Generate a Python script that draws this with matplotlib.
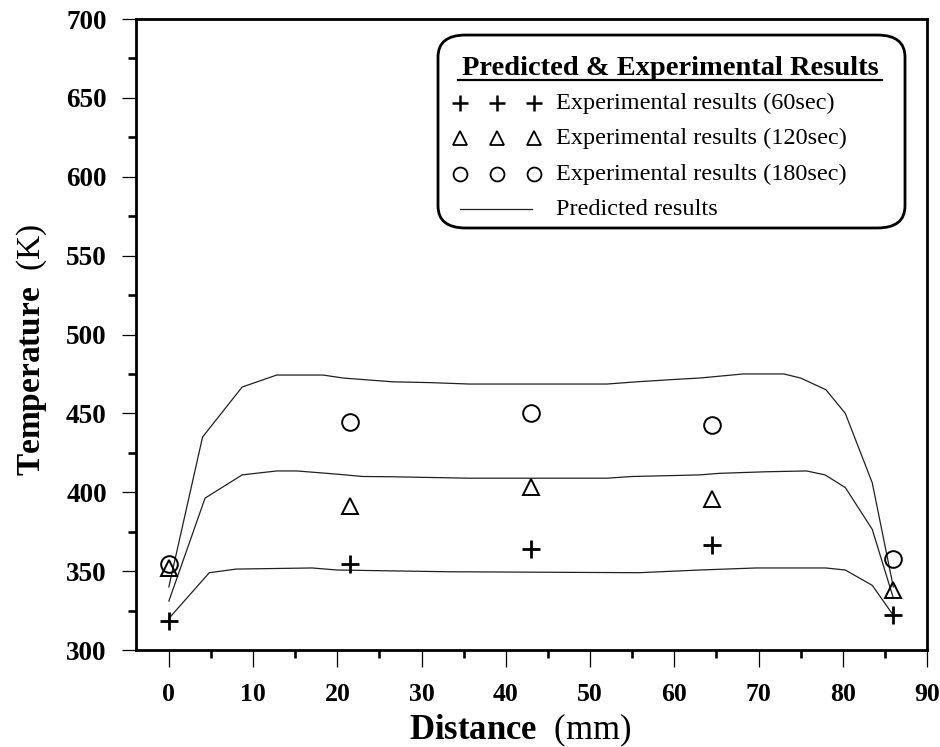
import matplotlib
matplotlib.use("Agg")
import matplotlib.pyplot as plt
from matplotlib.patches import FancyBboxPatch
from matplotlib.lines import Line2D
from matplotlib.ticker import MultipleLocator

plt.rcParams['font.family'] = ['Liberation Serif', 'DejaVu Serif']
plt.rcParams['mathtext.fontset'] = 'custom'
plt.rcParams['mathtext.rm'] = 'Liberation Serif'
plt.rcParams['mathtext.bf'] = 'Liberation Serif:bold'

# Experimental measurements (thermocouple positions, mm)
x_exp = [0, 21.5, 43, 64.5, 86]
t_60 = [318.5, 354.5, 364, 366.5, 322]
t_120 = [352, 391, 403.5, 395.5, 338]
t_180 = [354.5, 444.5, 450.5, 442.5, 358]

# Predicted temperature profiles
x_pred_60 = [0, 4.8, 8, 17, 20, 33.2, 55.8, 63, 69.7, 78, 80.3, 83.5, 86]
t_pred_60 = [320, 349, 351.3, 352, 350.7, 349.6, 349, 350.7, 352, 352, 350.7, 341, 322]

x_pred_120 = [0, 4.3, 8.7, 12.8, 15.2, 19.9, 23, 26.6, 35.7, 52, 55, 60, 63, 65.4,
              71, 75.7, 77.9, 80.3, 83.5, 86]
t_pred_120 = [331, 396.3, 411, 413.5, 413.5, 411.5, 410, 409.8, 408.9, 408.9, 410,
              410.6, 411, 412, 413, 413.5, 411, 403, 376.5, 333]

x_pred_180 = [0, 4.0, 8.7, 12.8, 18.3, 20.7, 26.6, 31, 35.7, 52, 55.5, 60, 63, 68.2,
              73, 75, 78, 80.3, 83.5, 86]
t_pred_180 = [340, 435, 466.7, 474.3, 474.3, 472.4, 470, 469.5, 468.6, 468.6, 470,
              471.5, 472.4, 475, 475, 472.4, 465, 450, 406, 340]

legend_title = "Predicted & Experimental Results"
legend_labels = ["Experimental results (60sec)", "Experimental results (120sec)",
                 "Experimental results (180sec)", "Predicted results"]

fig = plt.figure(figsize=(9.4, 7.47), dpi=100)
ax = fig.add_axes([136 / 940, 1 - 650 / 747, (927 - 136) / 940, (650 - 19) / 747])

line_kw = dict(color='#202020', lw=0.9)
ax.plot(x_pred_60, t_pred_60, **line_kw)
ax.plot(x_pred_120, t_pred_120, **line_kw)
ax.plot(x_pred_180, t_pred_180, **line_kw)

ax.plot(x_exp, t_60, ls='none', marker='+', ms=13, mew=2.0, color='black')
ax.plot(x_exp, t_120, ls='none', marker='^', ms=11, mew=1.4, mfc='none', mec='black')
ax.plot(x_exp, t_180, ls='none', marker='o', ms=12, mew=1.4, mfc='none', mec='black')

ax.set_xlim(-3.9, 90)
ax.set_ylim(300, 700)
ax.xaxis.set_major_locator(MultipleLocator(10))
ax.xaxis.set_minor_locator(MultipleLocator(5))
ax.yaxis.set_major_locator(MultipleLocator(50))
ax.yaxis.set_minor_locator(MultipleLocator(25))

for sp in ax.spines.values():
    sp.set_linewidth(2.0)

ax.tick_params(axis='x', which='major', direction='out', length=12, width=0.9, pad=12,
               labelsize=18.5)
ax.tick_params(axis='y', which='major', direction='out', length=10, width=0.9, pad=11,
               labelsize=19.5)
ax.tick_params(which='minor', direction='out', length=6, width=1.9)
for lab in ax.get_xticklabels() + ax.get_yticklabels():
    lab.set_fontweight('bold')

fig.text(520 / 940, 1 - 739 / 747, r'$\mathbf{Distance}$  (mm)', fontsize=25,
         ha='center', va='baseline')
fig.text(32 / 940, 1 - 350 / 747, r'$\mathbf{Temperature}$  (K)', fontsize=24,
         ha='center', va='center', rotation=90)

# Legend box
box = FancyBboxPatch((0.3818, 0.6688), 0.9722 - 0.3818, 0.9746 - 0.6688,
                     boxstyle='round,pad=0,rounding_size=0.035',
                     transform=ax.transAxes, facecolor='white', edgecolor='black',
                     lw=2.0, zorder=5)
ax.add_patch(box)

tt = ax.text(0.675, 0.922, legend_title, transform=ax.transAxes, fontsize=20.5,
             fontweight='bold', ha='center', va='center', zorder=6)
ax.add_line(Line2D([(458 - 136) / 791, (882 - 136) / 791], [0.903, 0.903],
                   transform=ax.transAxes, color='black', lw=1.6, zorder=6))

rows_y = [0.867, 0.8115, 0.754, 0.6985]
mk_x = [0.4096, 0.4560, 0.5032]
mk_styles = [dict(marker='+', ms=12, mew=1.8, color='black'),
             dict(marker='^', ms=9.5, mew=1.3, mfc='none', mec='black'),
             dict(marker='o', ms=10, mew=1.3, mfc='none', mec='black')]
for yy, st in zip(rows_y[:3], mk_styles):
    ax.plot(mk_x, [yy] * 3, ls='none', transform=ax.transAxes, zorder=6,
            clip_on=False, **st)
ax.add_line(Line2D([(460 - 136) / 791, (532 - 136) / 791], [rows_y[3]] * 2,
                   transform=ax.transAxes, color='#202020', lw=0.9, zorder=6))
for yy, lab in zip(rows_y, legend_labels):
    ax.text(0.531, yy, lab, transform=ax.transAxes, fontsize=17.5, ha='left',
            va='center', zorder=6)

fig.savefig('out.png', dpi=100)
